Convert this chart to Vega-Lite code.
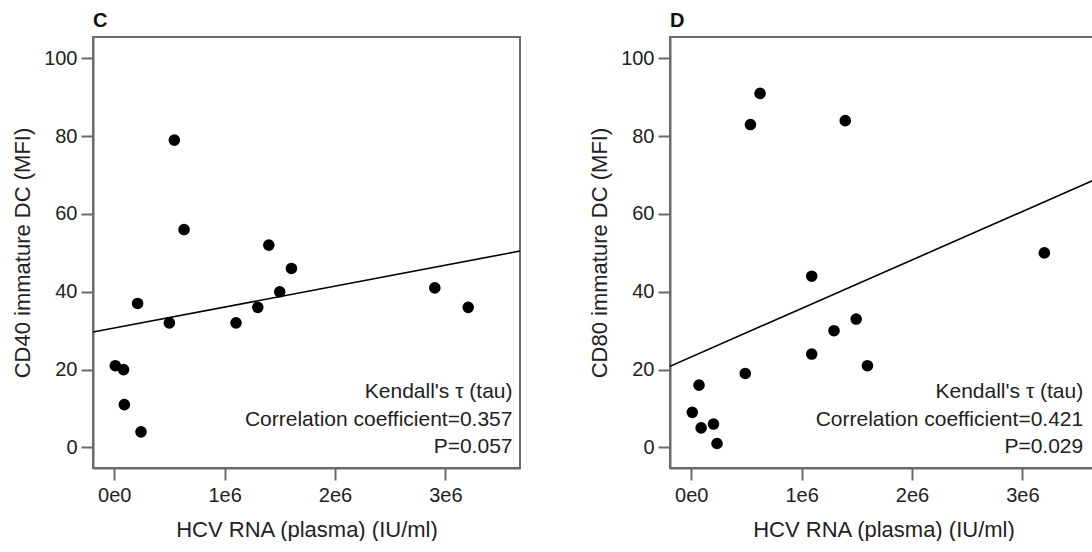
{
  "$schema": "https://vega.github.io/schema/vega-lite/v6.json",
  "background": "white",
  "padding": {"left": 10, "top": 10, "right": 0, "bottom": 0},
  "config": {
    "font": "Liberation Sans",
    "view": {"stroke": "#6b6b6b", "strokeWidth": 2},
    "axis": {
      "domainColor": "#6b6b6b", "domainWidth": 2,
      "tickColor": "#6b6b6b", "tickWidth": 2, "tickSize": 12,
      "labelFont": "Liberation Sans", "labelFontSize": 20, "labelColor": "#222222",
      "titleFont": "Liberation Sans", "titleFontSize": 22, "titleFontWeight": "normal", "titleColor": "#222222",
      "grid": false
    },
    "axisX": {"labelPadding": 5, "titlePadding": 14},
    "axisY": {"labelPadding": 4, "titlePadding": 9},
    "title": {"anchor": "start", "frame": "group", "fontSize": 20, "fontWeight": "bold", "font": "Liberation Sans", "color": "#111111", "offset": 6},
    "concat": {"spacing": 66}
  },
  "datasets": {
    "c": [
      {"rna": 544000, "mfi": 79}, {"rna": 632000, "mfi": 56}, {"rna": 1400000, "mfi": 52},
      {"rna": 1605000, "mfi": 46}, {"rna": 211000, "mfi": 37}, {"rna": 499000, "mfi": 32},
      {"rna": 1103000, "mfi": 32}, {"rna": 1300000, "mfi": 36}, {"rna": 1499000, "mfi": 40},
      {"rna": 9000, "mfi": 21}, {"rna": 84000, "mfi": 20}, {"rna": 91000, "mfi": 11},
      {"rna": 242000, "mfi": 4}, {"rna": 2904000, "mfi": 41}, {"rna": 3207000, "mfi": 36}
    ],
    "d": [
      {"rna": 623000, "mfi": 91}, {"rna": 536000, "mfi": 83}, {"rna": 1395000, "mfi": 84},
      {"rna": 3199000, "mfi": 50}, {"rna": 1091000, "mfi": 44}, {"rna": 70000, "mfi": 16},
      {"rna": 9000, "mfi": 9}, {"rna": 89000, "mfi": 5}, {"rna": 201000, "mfi": 6},
      {"rna": 233000, "mfi": 1}, {"rna": 489000, "mfi": 19}, {"rna": 1091000, "mfi": 24},
      {"rna": 1293000, "mfi": 30}, {"rna": 1494000, "mfi": 33}, {"rna": 1596000, "mfi": 21}
    ],
    "c_text": [
      {"label": "Kendall's τ (tau)", "rna": 3608000, "mfi": 14.2},
      {"label": "Correlation coefficient=0.357", "rna": 3608000, "mfi": 7.1},
      {"label": "P=0.057", "rna": 3608000, "mfi": 0}
    ],
    "d_text": [
      {"label": "Kendall's τ (tau)", "rna": 3551000, "mfi": 14.2},
      {"label": "Correlation coefficient=0.421", "rna": 3551000, "mfi": 7.1},
      {"label": "P=0.029", "rna": 3551000, "mfi": 0}
    ]
  },
  "hconcat": [
    {
      "title": "C",
      "width": 427, "height": 431,
      "encoding": {
        "x": {"field": "rna", "type": "quantitative",
              "scale": {"domain": [-193000, 3676000], "nice": false, "zero": false},
              "axis": {"values": [0, 1000000, 2000000, 3000000], "title": "HCV RNA (plasma) (IU/ml)",
                       "labelExpr": "replace(format(datum.value, '.0e'), '+', '')"}},
        "y": {"field": "mfi", "type": "quantitative",
              "scale": {"domain": [-5.3, 105.5], "nice": false, "zero": false},
              "axis": {"values": [0, 20, 40, 60, 80, 100], "title": "CD40 immature DC (MFI)"}}
      },
      "layer": [
        {"data": {"name": "c"},
         "mark": {"type": "circle", "size": 135, "color": "black", "opacity": 1}},
        {"data": {"name": "c"},
         "transform": [{"regression": "mfi", "on": "rna", "extent": [-193000, 3676000]}],
         "mark": {"type": "line", "color": "black", "strokeWidth": 1.6, "clip": true}},
        {"data": {"name": "c_text"},
         "mark": {"type": "text", "align": "right", "baseline": "middle", "fontSize": 21, "color": "#222222", "font": "Liberation Sans"},
         "encoding": {"text": {"field": "label"}}}
      ]
    },
    {
      "title": "D",
      "width": 427, "height": 431,
      "encoding": {
        "x": {"field": "rna", "type": "quantitative",
              "scale": {"domain": [-193000, 3676000], "nice": false, "zero": false},
              "axis": {"values": [0, 1000000, 2000000, 3000000], "title": "HCV RNA (plasma) (IU/ml)",
                       "labelExpr": "replace(format(datum.value, '.0e'), '+', '')"}},
        "y": {"field": "mfi", "type": "quantitative",
              "scale": {"domain": [-5.3, 105.5], "nice": false, "zero": false},
              "axis": {"values": [0, 20, 40, 60, 80, 100], "title": "CD80 immature DC (MFI)"}}
      },
      "layer": [
        {"data": {"name": "d"},
         "mark": {"type": "circle", "size": 135, "color": "black", "opacity": 1}},
        {"data": {"name": "d"},
         "transform": [{"regression": "mfi", "on": "rna", "extent": [-193000, 3676000]}],
         "mark": {"type": "line", "color": "black", "strokeWidth": 1.6, "clip": true}},
        {"data": {"name": "d_text"},
         "mark": {"type": "text", "align": "right", "baseline": "middle", "fontSize": 21, "color": "#222222", "font": "Liberation Sans"},
         "encoding": {"text": {"field": "label"}}}
      ]
    }
  ]
}
